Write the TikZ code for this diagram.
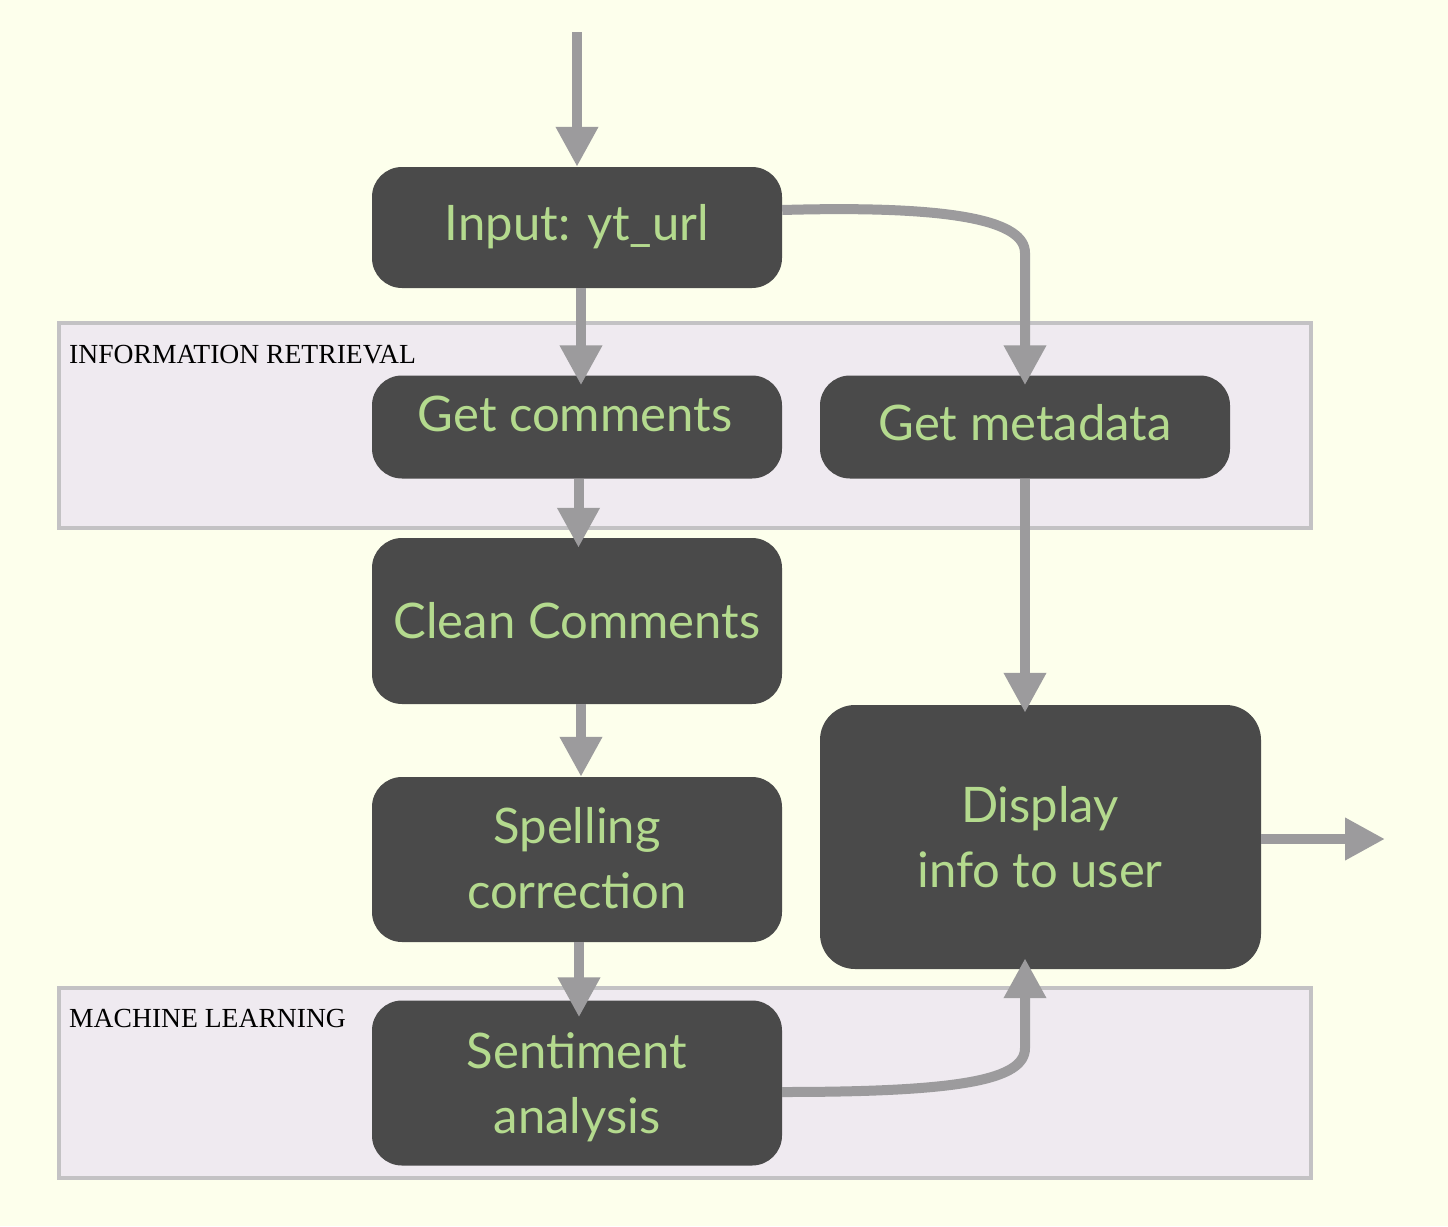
\documentclass[tikz,border=0pt]{standalone}
\usepackage{fontspec}
\setmainfont{Liberation Serif}
\newfontfamily\boxfont{Lato}
\usetikzlibrary{arrows.meta}
\definecolor{bgc}{RGB}{253,255,236}
\definecolor{boxc}{RGB}{74,74,74}
\definecolor{txtc}{RGB}{180,218,142}
\definecolor{arrc}{RGB}{156,155,157}
\definecolor{clfill}{RGB}{239,234,240}
\definecolor{cldraw}{RGB}{195,194,196}
\tikzset{
  box/.style={draw=none, fill=boxc, rounded corners=30pt, inner sep=0pt},
  boxtext/.style={font=\boxfont\fontsize{49}{65}\selectfont, text=txtc, align=center, inner sep=0pt, anchor=base},
  cluster/.style={draw=cldraw, fill=clfill, line width=3.5pt},
  cllabel/.style={font=\fontsize{27.6}{33}\selectfont, text=black, anchor=base west, inner sep=0pt},
  arr/.style={draw=arrc, line width=10pt, -{Triangle[length=40pt,width=40pt]}},
}
\begin{document}
\begin{tikzpicture}[x=1pt,y=-1pt]
\fill[bgc] (0,0) rectangle (1448,1226);
\useasboundingbox (0,0) rectangle (1448,1226);
% clusters
\draw[cluster] (59,323) rectangle (1311,528);
\node[cllabel] (irlab) at (69,363) {INFORMATION RETRIEVAL};
\draw[cluster] (59,988) rectangle (1311,1178);
\node[cllabel] (mllab) at (69,1027) {MACHINE LEARNING};
% boxes
\node[box, minimum width=410pt, minimum height=121pt] (in) at (577,227.5) {};
\node[box, minimum width=410pt, minimum height=103pt] (gc) at (577,427) {};
\node[box, minimum width=410pt, minimum height=103pt] (gm) at (1025,427) {};
\node[box, minimum width=410pt, minimum height=166pt] (cc) at (577,621) {};
\node[box, minimum width=410pt, minimum height=165pt] (sc) at (577,859.5) {};
\node[box, minimum width=410pt, minimum height=165pt] (sa) at (577,1083) {};
\node[box, minimum width=441pt, minimum height=264pt, rounded corners=35pt] (di) at (1040.5,837) {};
% texts
\node[boxtext] (int) at (577,240) {Input: yt\_url};
\node[boxtext] (gct) at (575,431) {Get comments};
\node[boxtext] (gmt) at (1025,440) {Get metadata};
\node[boxtext] (cct) at (577,638) {Clean Comments};
\node[boxtext] (sct) at (577,908) {Spelling\\correction};
\node[boxtext] (sat) at (577,1133) {Sentiment\\analysis};
\node[boxtext] (dit) at (1040,887) {Display\\info to user};
% connectors
\coordinate (top) at (577,32);
\coordinate (out) at (1385,839);
\draw[arr] (top) -- (in.north);
\draw[arr] ([xshift=4pt]in.south) -- ([xshift=4pt,yshift=-10pt]gc.north);
\draw[arr] ([xshift=1.5pt]gc.south) -- ([xshift=1.5pt,yshift=-10pt]cc.north);
\draw[arr] ([xshift=4pt]cc.south) -- ([xshift=4pt]sc.north);
\draw[arr] ([xshift=2pt]sc.south) -- ([xshift=2pt,yshift=-17pt]sa.north);
\draw[arr] (gm.south) -- ([yshift=-8pt]gm.south |- di.north);
\draw[arr] ([yshift=-2pt]di.east) -- (out);
\draw[arr] ([yshift=17.5pt]in.east) .. controls (960,205) and (1025,222) .. (1025,253) -- ([yshift=-10pt]gm.north);
\draw[arr] ([yshift=-9pt]sa.east) .. controls (960,1092) and (1025,1080) .. (1025,1048) -- ([yshift=11pt]gm.south |- di.south);
\end{tikzpicture}
\end{document}
